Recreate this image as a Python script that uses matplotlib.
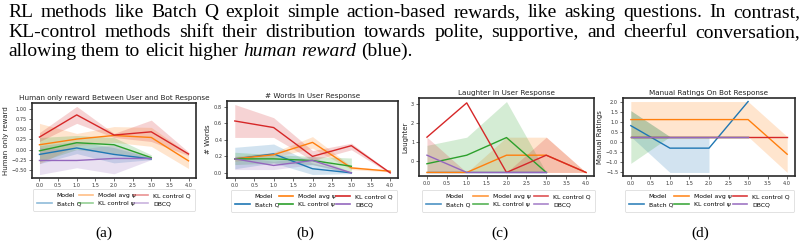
import numpy as np
import matplotlib
matplotlib.use('Agg')
import matplotlib.pyplot as plt
from matplotlib.lines import Line2D
from matplotlib.ticker import MultipleLocator

W, H, DPI = 806, 248, 100

models = ['Batch Q', 'Model avg ψ', 'KL control ψ', 'KL control Q', 'DBCQ']
colors = ['#1f77b4', '#ff7f0e', '#2ca02c', '#d62728', '#9467bd']
steps = [0, 1, 2, 3, 4]

# (a) Human only reward
reward_mean = [[-0.12, 0.04, -0.12, -0.23],
               [0.12, 0.26, 0.35, 0.30, -0.28],
               [-0.03, 0.17, 0.12, -0.20],
               [0.31, 0.86, 0.36, 0.44, -0.11],
               [-0.27, -0.27, -0.22, -0.22]]
reward_lo = [[-0.35, -0.10, -0.33, -0.25],
             [-0.35, 0.10, 0.18, 0.08, -0.47],
             [-0.30, 0.00, -0.10, -0.25],
             [0.20, 0.65, 0.30, 0.20, -0.15],
             [-0.62, -0.45, -0.60, -0.25]]
reward_hi = [[0.10, 0.20, 0.05, -0.20],
             [0.65, 0.40, 0.57, 0.55, -0.10],
             [0.30, 0.35, 0.30, -0.13],
             [0.42, 1.07, 0.40, 0.73, -0.06],
             [0.05, 0.00, 0.12, -0.20]]

# (b) # Words
words_mean = [[0.17, 0.23, 0.05, 0.00],
              [0.17, 0.22, 0.37, 0.06, 0.02],
              [0.17, 0.17, 0.15, 0.08],
              [0.63, 0.55, 0.20, 0.33, 0.00],
              [0.17, 0.09, 0.15, 0.00]]
words_lo = [[0.05, 0.12, -0.02, -0.01],
            [0.14, 0.19, 0.30, 0.04, 0.01],
            [0.10, 0.12, 0.10, 0.00],
            [0.43, 0.43, 0.15, 0.28, -0.01],
            [0.04, 0.04, 0.10, -0.01]]
words_hi = [[0.31, 0.35, 0.12, 0.01],
            [0.20, 0.25, 0.44, 0.08, 0.03],
            [0.25, 0.22, 0.20, 0.18],
            [0.83, 0.67, 0.27, 0.36, 0.01],
            [0.20, 0.14, 0.20, 0.01]]

# (c) Laughter
laugh_mean = [[-0.6, -0.6, -0.6, -0.6],
              [-0.6, -0.6, 0.31, 0.31, -0.6],
              [-0.14, 0.31, 1.24, -0.6],
              [1.26, 3.07, -0.6, 0.31, -0.6],
              [0.31, -0.6, -0.6, -0.6]]
laugh_lo = [[-0.6, -0.6, -0.6, -0.6],
            [-0.6, -0.6, -0.6, -0.6, -0.6],
            [-0.6, -0.6, -0.6, -0.6],
            [-0.6, -0.6, -0.6, -0.6, -0.6],
            [0.31, -0.6, -0.6, -0.6]]
laugh_hi = [[-0.6, -0.6, -0.6, -0.6],
            [-0.6, -0.6, 1.26, 1.26, -0.6],
            [0.83, 1.26, 3.14, -0.6],
            [1.26, -0.6, -0.6, 1.26, -0.6],
            [0.31, -0.6, -0.6, -0.6]]

# (d) Manual ratings
rating_mean = [[0.81, -0.30, -0.30, 2.0],
               [1.11, 1.11, 1.11, 1.11, -0.6],
               [0.27, 0.27, 0.27, 0.27],
               [0.27, 0.27, 0.27, 0.27, 0.27],
               [0.27, 0.27, 0.27, 0.27]]
rating_lo = [[0.27, -1.5, -1.5, np.nan],
             [0.27, 0.27, 0.27, 0.27, -1.5],
             [-1.05, 0.27, 0.27, 0.27],
             [0.27, 0.27, 0.27, 0.27, 0.27],
             [0.27, 0.27, 0.27, 0.27]]
rating_hi = [[1.55, 0.27, 0.27, np.nan],
             [2.0, 2.0, 2.0, 2.0, 0.27],
             [1.55, 0.27, 0.27, 0.27],
             [0.27, 0.27, 0.27, 0.27, 0.27],
             [0.27, 0.27, 0.27, 0.27]]

titles = ['Human only reward Between User and Bot Response',
          '# Words In User Response',
          'Laughter In User Response',
          'Manual Ratings On Bot Response']
ylabels = ['Human only reward', '# Words', 'Laughter', 'Manual Ratings']
captions = ['(a)', '(b)', '(c)', '(d)']
ytick_steps = [0.25, 0.2, 1.0, 0.5]

line1 = "RL methods like Batch Q exploit simple action-based rewards, like asking questions.  In contrast,"
line2 = "KL-control methods shift their distribution towards polite, supportive, and cheerful conversation,"
line3 = [("allowing them to elicit higher", 'normal'), ("human reward", 'italic'), ("(blue).", 'normal')]

fig = plt.figure(figsize=(W / DPI, H / DPI), dpi=DPI)
fig.patch.set_facecolor('white')

# axes boxes in pixels: left, top, right, bottom
boxes = [(32, 103, 196, 178), (227, 101, 398, 178), (419, 98, 594, 176), (623, 98, 795, 176)]
legend_boxes = [(33, 191, 195), (231, 192, 397), (422, 192, 595), (625, 192, 794)]
legend_alpha = [0.5, 1.0, 0.8, 0.9]
caption_x = [104, 305, 500, 700]

datasets = [(reward_mean, reward_lo, reward_hi),
            (words_mean, words_lo, words_hi),
            (laugh_mean, laugh_lo, laugh_hi),
            (rating_mean, rating_lo, rating_hi)]

for k, (mean, lo, hi) in enumerate(datasets):
    l, t, r, b = boxes[k]
    ax = fig.add_axes([l / W, 1 - b / H, (r - l) / W, (b - t) / H])
    for i, m in enumerate(models):
        xs = steps[:len(mean[i])]
        ax.plot(xs, mean[i], color=colors[i], lw=1.0)
        ax.fill_between(xs, lo[i], hi[i], color=colors[i], alpha=0.2, linewidth=0)
    ax.set_xticks([0, 0.5, 1.0, 1.5, 2.0, 2.5, 3.0, 3.5, 4.0])
    ax.yaxis.set_major_locator(MultipleLocator(ytick_steps[k]))
    ax.tick_params(labelsize=3.6, length=2, width=0.5, pad=1.5, colors='#333333')
    ax.set_title(titles[k], fontsize=5.2, pad=2, color='#222222')
    ax.set_ylabel(ylabels[k], fontsize=5, labelpad=2, color='#222222')
    for s in ax.spines.values():
        s.set_linewidth(1.2)
        s.set_color('#2a2a2a')
    # legend
    lx0, ly0, lx1 = legend_boxes[k]
    handles = [Line2D([], [], color='none')] + [
        Line2D([], [], color=c, lw=1.2, alpha=legend_alpha[k]) for c in colors]
    labels = ['Model'] + models
    leg = fig.legend(handles, labels, ncol=3, loc='upper left',
                     bbox_to_anchor=(lx0 / W, 1 - ly0 / H, (lx1 - lx0) / W, 0.01),
                     bbox_transform=fig.transFigure, mode='expand',
                     fontsize=4.4, handlelength=2.4, handletextpad=0.8,
                     labelspacing=0.5, borderpad=0.7, columnspacing=1.5,
                     frameon=True, fancybox=True, borderaxespad=0)
    leg.get_frame().set_linewidth(0.5)
    leg.get_frame().set_edgecolor('#cccccc')
    fig.text(caption_x[k] / W, 1 - 233 / H, captions[k], fontsize=11,
             family='Liberation Serif', ha='center', va='center')

# header text, justified
fs = 14
renderer = fig.canvas.get_renderer()
X0, X1 = 8, 800


def place_words(words, y_px, justify):
    texts = []
    for w, st in words:
        txt = fig.text(0, 1 - y_px / H, w, fontsize=fs, family='Liberation Serif',
                       style=st, va='baseline', ha='left')
        texts.append(txt)
    widths = [txt.get_window_extent(renderer).width for txt in texts]
    space = fs * 0.25 * DPI / 72
    if justify:
        gap = (X1 - X0 - sum(widths)) / (len(texts) - 1)
    else:
        gap = space
    x = X0
    for txt, wd in zip(texts, widths):
        txt.set_x(x / W)
        x += wd + gap


place_words([(w, 'normal') for w in line1.split()], 17, True)
place_words([(w, 'normal') for w in line2.split()], 37, True)
words3 = []
for seg, st in line3:
    words3 += [(w, st) for w in seg.split()]
place_words(words3, 56, False)

fig.savefig('out.png', dpi=DPI, facecolor='white')
